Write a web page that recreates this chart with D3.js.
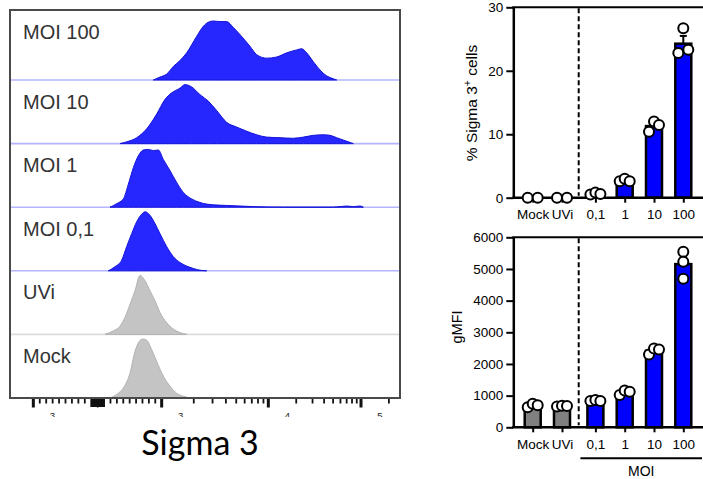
<!DOCTYPE html>
<html><head><meta charset="utf-8">
<script src="https://cdn.jsdelivr.net/npm/d3@7"></script>
<style>body{margin:0;background:#fff}svg{display:block}</style>
</head><body>
<svg id="c" width="703" height="479"></svg>
<script>
// ---------------- DATA ----------------
// Histogram rows (top to bottom); x in display channel units, y in % of mode
const histRows = ["MOI 100", "MOI 10", "MOI 1", "MOI 0,1", "UVi", "Mock"];
const histInfected = [true, true, true, true, false, false];

const moi100Ch  = [430,450,470,490,510,530,560,580,595,610,630,650,670,690,720,740,770,800,830,860,875,890,910,930,950,970,980];
const moi100Pct = [0,5,10,23,33,46,74,91,98,100,99,99,89,77,57,43,37,39,46,51,53,46,31,17,7,2,0];
const moi10Ch   = [330,350,380,410,440,465,485,510,525,545,570,595,620,650,680,710,740,770,810,850,880,910,940,960,980,1000,1025,1030];
const moi10Pct  = [0,3,10,25,50,75,86,94,100,96,83,72,56,36,28,21,15,11,10,9,11,14,15,14,10,6,1,0];
const moi1Ch    = [300,320,340,355,370,385,400,415,430,445,460,480,500,520,545,570,610,650,690,730,820,970,1010,1030,1050,1060];
const moi1Pct   = [0,6,14,39,67,87,97,98,96,97,81,62,42,25,14,8,4,3,2,1,0,0,2,1,2,0];
const moi01Ch   = [295,315,335,350,365,380,395,405,420,435,450,470,490,510,530,550,570,590];
const moi01Pct  = [0,7,18,41,63,83,96,100,94,80,63,41,24,14,8,4,1,0];
const uviCh     = [285,310,330,345,360,375,390,405,420,435,450,470,490,510,530];
const uviPct    = [0,6,14,29,51,74,100,91,74,57,37,20,9,3,0];
const mockCh    = [300,320,340,360,375,388,398,410,425,440,460,480,500,520,540];
const mockPct   = [0,6,17,42,79,96,100,98,82,62,37,20,8,3,0];

// Histogram axis calibration (value -> display channel)
const axisMajorValues = [-1000, 0, 1000, 10000, 100000];
const axisMajorCh     = [70, 263, 455, 775, 1053];
const axisLabelValues = [-1000, 1000, 10000, 100000];
const axisLabelExp    = ["3", "3", "4", "5"];
const histTitle = "Sigma 3";

// Bar charts
const barCats = ["Mock", "UVi", "0,1", "1", "10", "100"];
const barInfected = [false, false, true, true, true, true];
const pctRep1 = [0, 0, 0.5, 2.6, 10.4, 22.8];
const pctRep2 = [0, 0, 0.8, 3.0, 12.0, 26.7];
const pctRep3 = [null, null, 0.6, 2.6, 11.45, 23.3];
const gmfiRep1 = [630, 660, 830, 1020, 2300, 5540];
const gmfiRep2 = [740, 680, 860, 1160, 2490, 5230];
const gmfiRep3 = [700, 670, 830, 1120, 2460, 4690];
const pctTicks = [0, 10, 20, 30];
const gmfiTicks = [0, 1000, 2000, 3000, 4000, 5000, 6000];
const groupLabel = "MOI";

// ---------------- DRAWING ----------------
const svg = d3.select("#c");
const FONT = "'Liberation Sans', Arial, sans-serif";

// ---- Histogram panel ----
const box = {l: 10, t: 10, r: 400, b: 398, firstRowB: 80};
const histX = d3.scaleLinear().domain([0, 1170]).range([box.l, box.r]);
const rowH = (box.b - box.firstRowB) / 5;
const peakH = 59;
const histData = [
  [moi100Ch, moi100Pct], [moi10Ch, moi10Pct], [moi1Ch, moi1Pct],
  [moi01Ch, moi01Pct], [uviCh, uviPct], [mockCh, mockPct]
];
const gH = svg.append("g");
histRows.forEach((name, i) => {
  const baseline = box.b - (5 - i) * rowH;
  const top = i === 0 ? box.t : box.b - (6 - i) * rowH;
  const y = d3.scaleLinear().domain([0, 100]).range([baseline, baseline - peakH]);
  const pts = histData[i][0].map((c, k) => ({c, p: histData[i][1][k]}));
  const blue = histInfected[i];
  if (i < 5) {
    gH.append("line").attr("x1", box.l).attr("x2", box.r).attr("y1", baseline).attr("y2", baseline)
      .attr("stroke", blue ? "#b4b4ff" : "#dcdcdc").attr("stroke-width", 1.6);
  }
  const area = d3.area().x(d => histX(d.c)).y0(baseline).y1(d => y(d.p)).curve(d3.curveMonotoneX);
  gH.append("path").datum(pts).attr("d", area)
    .attr("fill", blue ? "#2626ff" : "#c4c4c4")
    .attr("stroke", blue ? "#1414d8" : "#b2b2b2").attr("stroke-width", 1);
  gH.append("text").attr("x", 23).attr("y", top + 28.5).text(name)
    .attr("font-family", FONT).attr("font-size", 20).attr("fill", "#333");
});
gH.append("rect").attr("x", box.l).attr("y", box.t).attr("width", box.r - box.l).attr("height", box.b - box.t)
  .attr("fill", "none").attr("stroke", "#4a4a4a").attr("stroke-width", 2);

// axis transform: value -> channel
function valToCh(v) {
  const [n, z, p, d4, d5] = axisMajorCh;
  if (v >= -1000 && v <= 0) return z + (v / 1000) * (z - n);
  if (v >= 0 && v <= 1000) return z + (v / 1000) * (p - z);
  const lg = Math.log10(v);
  if (lg <= 4) return p + (lg - 3) * (d4 - p);
  return d4 + (lg - 4) * (d5 - d4);
}
const minorVals = [];
for (let k = 1; k <= 9; k++) { minorVals.push(-k * 100, k * 100, -k * 10, k * 10); }
for (let k = 2; k <= 9; k++) { minorVals.push(k * 1000, k * 10000); }
minorVals.push(200000);
const gA = svg.append("g");
const ty = box.b + 1;
minorVals.forEach(v => {
  const x = histX(valToCh(v));
  const small = Math.abs(v) <= 100;
  gA.append("line").attr("x1", x).attr("x2", x).attr("y1", ty).attr("y2", ty + (small ? 8 : 4.5))
    .attr("stroke", "#111").attr("stroke-width", small ? 1.8 : 1.8);
});
axisMajorValues.forEach(v => {
  const x = histX(valToCh(v));
  gA.append("line").attr("x1", x).attr("x2", x).attr("y1", ty).attr("y2", ty + 8.5)
    .attr("stroke", "#111").attr("stroke-width", v === 0 ? 1.5 : 3);
});
svg.append("clipPath").attr("id", "axclip").append("rect").attr("x", 0).attr("y", 405).attr("width", 420).attr("height", 12);
const gL = svg.append("g").attr("clip-path", "url(#axclip)");
axisLabelValues.forEach((v, k) => {
  const x = histX(valToCh(v)) + 19;
  gL.append("text").attr("x", x).attr("y", 419).attr("text-anchor", "middle")
    .attr("font-family", FONT).attr("font-size", 9.5).attr("fill", "#222").text(axisLabelExp[k]);
});
svg.append("text").attr("x", 200).attr("y", 455).attr("text-anchor", "middle")
  .attr("font-family", "Lato, 'Open Sans', sans-serif").attr("font-size", 34).attr("fill", "#000").text(histTitle);

// ---- Bar charts ----
const gapFrac = 0.14;
const xIdx = d3.scaleLinear().domain([0, 5 + gapFrac]).range([532.7, 683.3]);
const catX = d3.scaleOrdinal().domain(barCats).range(barCats.map((c, i) => xIdx(i + (i >= 2 ? gapFrac : 0))));
const axisX0 = 513.3, rightEdge = 703;
const barW = 16, circR = 5;

function spreadOffsets(ys, thresh, half) {
  const n = ys.length, comp = new Array(n).fill(-1); let c = 0;
  for (let i = 0; i < n; i++) {
    if (comp[i] >= 0) continue;
    const st = [i]; comp[i] = c;
    while (st.length) { const a = st.pop();
      for (let j = 0; j < n; j++) if (comp[j] < 0 && Math.abs(ys[a] - ys[j]) < thresh) { comp[j] = c; st.push(j); } }
    c++;
  }
  const off = new Array(n).fill(0);
  for (let k = 0; k < c; k++) {
    const idx = ys.map((_, i) => i).filter(i => comp[i] === k);
    const m = idx.length;
    idx.forEach((i, r) => { off[i] = m === 1 ? 0 : -half + 2 * half * r / (m - 1); });
  }
  return off;
}

function barChart(opt) {
  const y = d3.scaleLinear().domain([0, opt.max]).range([opt.y0, opt.y1]);
  const g = svg.append("g");
  const dashX = xIdx(1.5 + gapFrac / 2);
  g.append("line").attr("x1", dashX).attr("x2", dashX).attr("y1", opt.y1 + 1).attr("y2", opt.y0 - 2)
    .attr("stroke", "#000").attr("stroke-width", 2).attr("stroke-dasharray", "5,3");
  const reps = opt.reps;
  barCats.forEach((cat, i) => {
    const vals = reps.map(r => r[i]).filter(v => v !== null);
    const mean = d3.mean(vals);
    const sem = d3.deviation(vals) / Math.sqrt(vals.length) || 0;
    const cx = catX(cat);
    if (mean > 0) {
      g.append("rect").attr("x", cx - barW / 2).attr("width", barW).attr("y", y(mean)).attr("height", y(0) - y(mean))
        .attr("fill", barInfected[i] ? "#0000ff" : "#808080").attr("stroke", "#000").attr("stroke-width", 2.5);
      g.append("line").attr("x1", cx).attr("x2", cx).attr("y1", y(mean)).attr("y2", y(mean + sem))
        .attr("stroke", "#000").attr("stroke-width", 2);
      g.append("line").attr("x1", cx - 3.5).attr("x2", cx + 3.5).attr("y1", y(mean + sem)).attr("y2", y(mean + sem))
        .attr("stroke", "#000").attr("stroke-width", 2);
    }
  });
  const ya = g.append("g").attr("transform", `translate(${axisX0},0)`)
    .call(d3.axisLeft(y).tickValues(opt.ticks).tickFormat(d3.format("d")).tickSize(7).tickSizeOuter(0).tickPadding(3));
  ya.select(".domain").attr("stroke-width", 2.5);
  ya.selectAll(".tick line").attr("stroke-width", 2);
  ya.selectAll("text").attr("font-family", FONT).attr("font-size", 13.5).attr("fill", "#000");
  g.append("line").attr("x1", axisX0 - 1).attr("x2", rightEdge).attr("y1", opt.y1).attr("y2", opt.y1)
    .attr("stroke", "#000").attr("stroke-width", 2);
  g.append("line").attr("x1", axisX0 - 1).attr("x2", rightEdge).attr("y1", opt.y0).attr("y2", opt.y0)
    .attr("stroke", "#000").attr("stroke-width", 2.5);
  const xa = g.append("g").attr("transform", `translate(0,${opt.y0})`)
    .call(d3.axisBottom(catX).tickSize(5).tickPadding(7));
  xa.select(".domain").remove();
  xa.selectAll(".tick line").attr("stroke-width", 2);
  xa.selectAll("text").attr("font-family", FONT).attr("font-size", 13.5).attr("fill", "#000");
  barCats.forEach((cat, i) => {
    const vals = reps.map(r => r[i]).filter(v => v !== null);
    const ys = vals.map(v => y(v));
    const off = spreadOffsets(ys, 9, 5);
    vals.forEach((v, k) => {
      g.append("circle").attr("cx", catX(cat) + off[k]).attr("cy", ys[k]).attr("r", circR)
        .attr("fill", "#fff").attr("stroke", "#000").attr("stroke-width", 2);
    });
  });
  const lab = g.append("text").attr("transform", `translate(${opt.labX},${opt.labY}) rotate(-90)`)
    .attr("text-anchor", "middle").attr("font-family", FONT).attr("font-size", opt.labSize).attr("fill", "#000");
  opt.label(lab);
  return y;
}

barChart({
  max: 30, y0: 197.7, y1: 7.3, ticks: pctTicks, reps: [pctRep1, pctRep2, pctRep3],
  labX: 477, labY: 103, labSize: 15.5,
  label: t => { t.append("tspan").text("% Sigma 3");
    t.append("tspan").attr("font-size", 10.5).attr("dy", -6).text("+");
    t.append("tspan").attr("dy", 6).text(" cells"); }
});
barChart({
  max: 6000, y0: 427.3, y1: 237.3, ticks: gmfiTicks, reps: [gmfiRep1, gmfiRep2, gmfiRep3],
  labX: 462, labY: 327, labSize: 14.5,
  label: t => t.text("gMFI")
});
const mx0 = xIdx(2 + gapFrac) - 15, mx1 = rightEdge - 1;
svg.append("line").attr("x1", mx0).attr("x2", mx1).attr("y1", 458.3).attr("y2", 458.3)
  .attr("stroke", "#000").attr("stroke-width", 2);
svg.append("text").attr("x", (mx0 + mx1) / 2).attr("y", 475.5).attr("text-anchor", "middle")
  .attr("font-family", FONT).attr("font-size", 14).attr("fill", "#000").text(groupLabel);
</script>
</body></html>
